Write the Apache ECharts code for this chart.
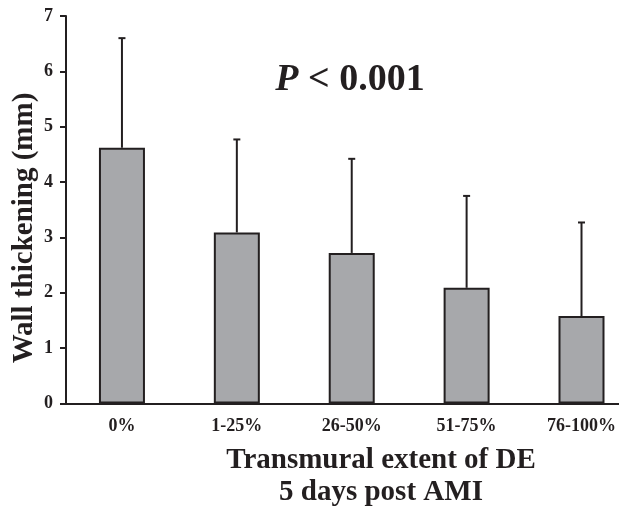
<!DOCTYPE html>
<html>
<head>
<meta charset="utf-8">
<script src="https://cdn.jsdelivr.net/npm/echarts@6/dist/echarts.min.js"></script>
<style>
html,body{margin:0;padding:0;background:#fff;}
#chart{width:619px;height:506px;}
</style>
</head>
<body>
<div id="chart"></div>
<script>
var categories = ['0%', '1-25%', '26-50%', '51-75%', '76-100%'];
var meanValues = [4.62, 3.09, 2.72, 2.09, 1.58];
var upperValues = [6.60, 4.77, 4.42, 3.75, 3.27];
var yTicks = [0, 1, 2, 3, 4, 5, 6, 7];

var ink = '#231f20';
var serif = '"Liberation Serif", "Times New Roman", serif';

var chart = echarts.init(document.getElementById('chart'), null, {renderer: 'canvas'});

var catIndex = categories.map(function (c, i) { return i; });
var barData = categories.map(function (c, i) { return [i, meanValues[i]]; });
var errData = categories.map(function (c, i) { return [i, meanValues[i], upperValues[i]]; });

chart.setOption({
  animation: false,
  backgroundColor: '#ffffff',
  grid: {left: 66, right: 0, top: 16, bottom: 102.5, containLabel: false},
  xAxis: {
    type: 'value',
    min: -0.487,
    max: 4.326,
    axisLine: {show: true, onZero: false, lineStyle: {color: ink, width: 2}},
    axisTick: {show: false},
    splitLine: {show: false},
    axisLabel: {
      customValues: catIndex,
      hideOverlap: false,
      formatter: function (v) { return categories[Math.round(v)] || ''; },
      color: ink, fontFamily: serif, fontWeight: 'bold', fontSize: 18, margin: 14
    }
  },
  yAxis: {
    type: 'value',
    min: yTicks[0],
    max: yTicks[yTicks.length - 1],
    interval: 1,
    axisLine: {show: true, onZero: false, lineStyle: {color: ink, width: 2}},
    axisTick: {show: true, length: 6, lineStyle: {color: ink, width: 2}},
    splitLine: {show: false},
    axisLabel: {color: ink, fontFamily: serif, fontWeight: 'bold', fontSize: 18, margin: 13}
  },
  series: [
    {
      type: 'bar',
      data: barData,
      barWidth: 46,
      itemStyle: {color: '#a7a8ab', borderColor: ink, borderWidth: 2}
    },
    {
      type: 'custom',
      data: errData,
      z: 1,
      renderItem: function (params, api) {
        var x = api.value(0);
        var lo = api.coord([x, api.value(1)]);
        var hi = api.coord([x, api.value(2)]);
        var cap = 3.5;
        return {
          type: 'group',
          children: [
            {type: 'line', shape: {x1: lo[0], y1: lo[1], x2: hi[0], y2: hi[1]}, style: {stroke: ink, lineWidth: 2}},
            {type: 'line', shape: {x1: hi[0] - cap, y1: hi[1], x2: hi[0] + cap, y2: hi[1]}, style: {stroke: ink, lineWidth: 2}}
          ]
        };
      }
    }
  ],
  graphic: [
    {
      type: 'text',
      x: 25, y: 228,
      rotation: Math.PI / 2,
      style: {
        text: 'Wall thickening (mm)',
        fill: ink,
        font: 'bold 29px ' + serif,
        textAlign: 'center',
        textVerticalAlign: 'middle'
      }
    },
    {
      type: 'text',
      x: 350, y: 80,
      style: {
        text: '{i|P}{n| < 0.001}',
        textAlign: 'center',
        textVerticalAlign: 'middle',
        rich: {
          i: {font: 'italic bold 38px ' + serif, fill: ink},
          n: {font: 'bold 38px ' + serif, fill: ink}
        }
      }
    },
    {
      type: 'text',
      x: 381, y: 461,
      style: {text: 'Transmural extent of DE', fill: ink, font: 'bold 29px ' + serif, textAlign: 'center', textVerticalAlign: 'middle'}
    },
    {
      type: 'text',
      x: 381, y: 493,
      style: {text: '5 days post AMI', fill: ink, font: 'bold 29px ' + serif, textAlign: 'center', textVerticalAlign: 'middle'}
    }
  ]
});
</script>
</body>
</html>
